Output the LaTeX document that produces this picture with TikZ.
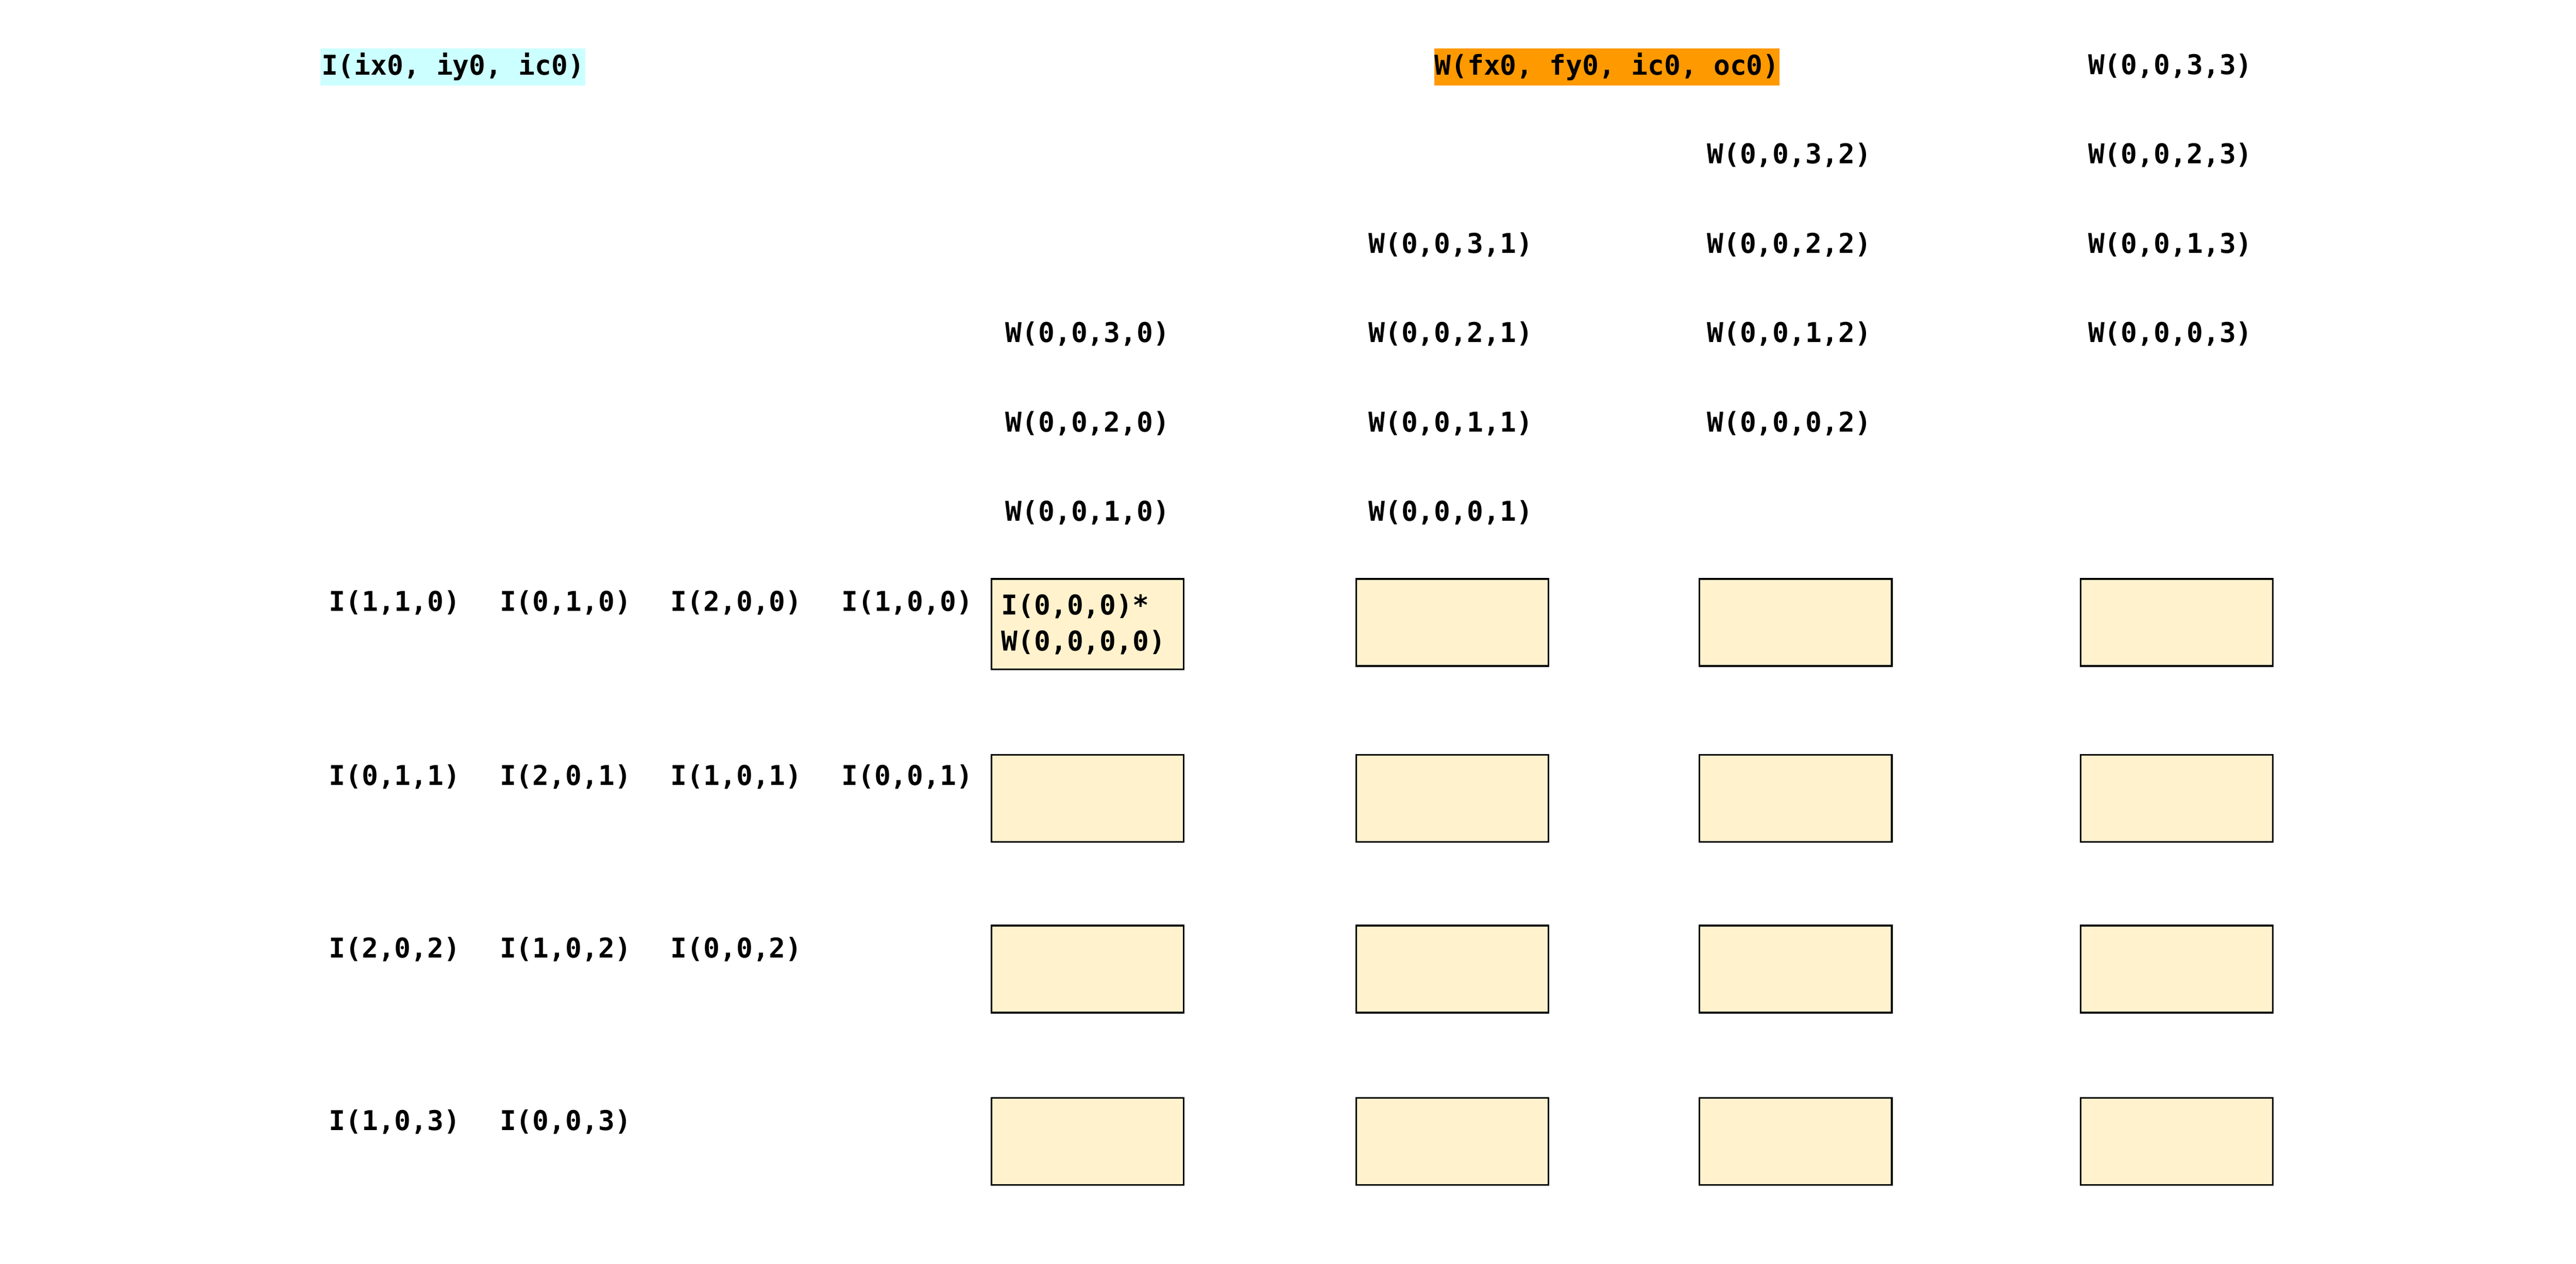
\documentclass[tikz,border=0pt]{standalone}
\usepackage{fontspec}
\setmonofont{DejaVu Sans Mono}
\newlength{\du}
\setlength{\du}{1pt}

\begin{document}
\begin{tikzpicture}[
  txt/.style={font=\ttfamily\bfseries\fontsize{16.6\du}{22\du}\selectfont, inner sep=0pt, text height=12.6\du, text depth=2.2\du},
  ilbl/.style={txt, anchor=west},
  wlbl/.style={txt, anchor=center},
  hilite/.style={txt, anchor=west, inner xsep=0.5\du, inner ysep=0\du, text height=16.2\du, text depth=6.3\du},
  cell/.style={draw=black, line width=1\du, fill=cellcolor, anchor=north west, minimum width=117\du, minimum height=53\du, inner sep=0pt}
]
\pgftransformxscale{1.000000}
\pgftransformyscale{-1.000000}
\definecolor{icolor}{rgb}{0.800000, 1.000000, 1.000000}
\definecolor{wcolor}{rgb}{1.000000, 0.600000, 0.000000}
\definecolor{cellcolor}{rgb}{1.000000, 0.949000, 0.800000}
\useasboundingbox (0\du,0\du) rectangle (1568\du,769.5\du);
% headers
\node[hilite, fill=icolor] (hdrI) at (195\du,40.75\du) {I(ix0, iy0, ic0)};
\node[hilite, fill=wcolor, inner xsep=0\du] (hdrW) at (873\du,40.75\du) {W(fx0, fy0, ic0, oc0)};
% weights, column 0
\node[wlbl] (w30) at (662\du,203.2\du) {W(0,0,3,0)};
\node[wlbl] (w20) at (662\du,257.6\du) {W(0,0,2,0)};
\node[wlbl] (w10) at (662\du,312\du) {W(0,0,1,0)};
% weights, column 1
\node[wlbl] (w31) at (883\du,148.8\du) {W(0,0,3,1)};
\node[wlbl] (w21) at (883\du,203.2\du) {W(0,0,2,1)};
\node[wlbl] (w11) at (883\du,257.6\du) {W(0,0,1,1)};
\node[wlbl] (w01) at (883\du,312\du) {W(0,0,0,1)};
% weights, column 2
\node[wlbl] (w32) at (1089\du,94.4\du) {W(0,0,3,2)};
\node[wlbl] (w22) at (1089\du,148.8\du) {W(0,0,2,2)};
\node[wlbl] (w12) at (1089\du,203.2\du) {W(0,0,1,2)};
\node[wlbl] (w02) at (1089\du,257.6\du) {W(0,0,0,2)};
% weights, column 3
\node[wlbl] (w33) at (1321\du,40\du) {W(0,0,3,3)};
\node[wlbl] (w23) at (1321\du,94.4\du) {W(0,0,2,3)};
\node[wlbl] (w13) at (1321\du,148.8\du) {W(0,0,1,3)};
\node[wlbl] (w03) at (1321\du,203.2\du) {W(0,0,0,3)};
% inputs, row 0
\node[ilbl] (i110) at (200\du,367\du) {I(1,1,0)};
\node[ilbl] (i010) at (304\du,367\du) {I(0,1,0)};
\node[ilbl] (i200) at (408\du,367\du) {I(2,0,0)};
\node[ilbl] (i100) at (512\du,367\du) {I(1,0,0)};
% inputs, row 1
\node[ilbl] (i011) at (200\du,473\du) {I(0,1,1)};
\node[ilbl] (i201) at (304\du,473\du) {I(2,0,1)};
\node[ilbl] (i101) at (408\du,473\du) {I(1,0,1)};
\node[ilbl] (i001) at (512\du,473\du) {I(0,0,1)};
% inputs, row 2
\node[ilbl] (i202) at (200\du,578\du) {I(2,0,2)};
\node[ilbl] (i102) at (304\du,578\du) {I(1,0,2)};
\node[ilbl] (i002) at (408\du,578\du) {I(0,0,2)};
% inputs, row 3
\node[ilbl] (i103) at (200\du,683\du) {I(1,0,3)};
\node[ilbl] (i003) at (304\du,683\du) {I(0,0,3)};
% cells, row 0
\node[cell, txt, text height=, text depth=, text width=105\du, inner xsep=6\du, inner ysep=0\du, align=left, minimum height=55\du] (c00) at (603\du,352\du) {I(0,0,0)*\\W(0,0,0,0)};
\node[cell] (c01) at (825\du,352\du) {};
\node[cell] (c02) at (1034\du,352\du) {};
\node[cell] (c03) at (1266\du,352\du) {};
% cells, row 1
\node[cell] (c10) at (603\du,459\du) {};
\node[cell] (c11) at (825\du,459\du) {};
\node[cell] (c12) at (1034\du,459\du) {};
\node[cell] (c13) at (1266\du,459\du) {};
% cells, row 2
\node[cell] (c20) at (603\du,563\du) {};
\node[cell] (c21) at (825\du,563\du) {};
\node[cell] (c22) at (1034\du,563\du) {};
\node[cell] (c23) at (1266\du,563\du) {};
% cells, row 3
\node[cell] (c30) at (603\du,668\du) {};
\node[cell] (c31) at (825\du,668\du) {};
\node[cell] (c32) at (1034\du,668\du) {};
\node[cell] (c33) at (1266\du,668\du) {};
\end{tikzpicture}
\end{document}
